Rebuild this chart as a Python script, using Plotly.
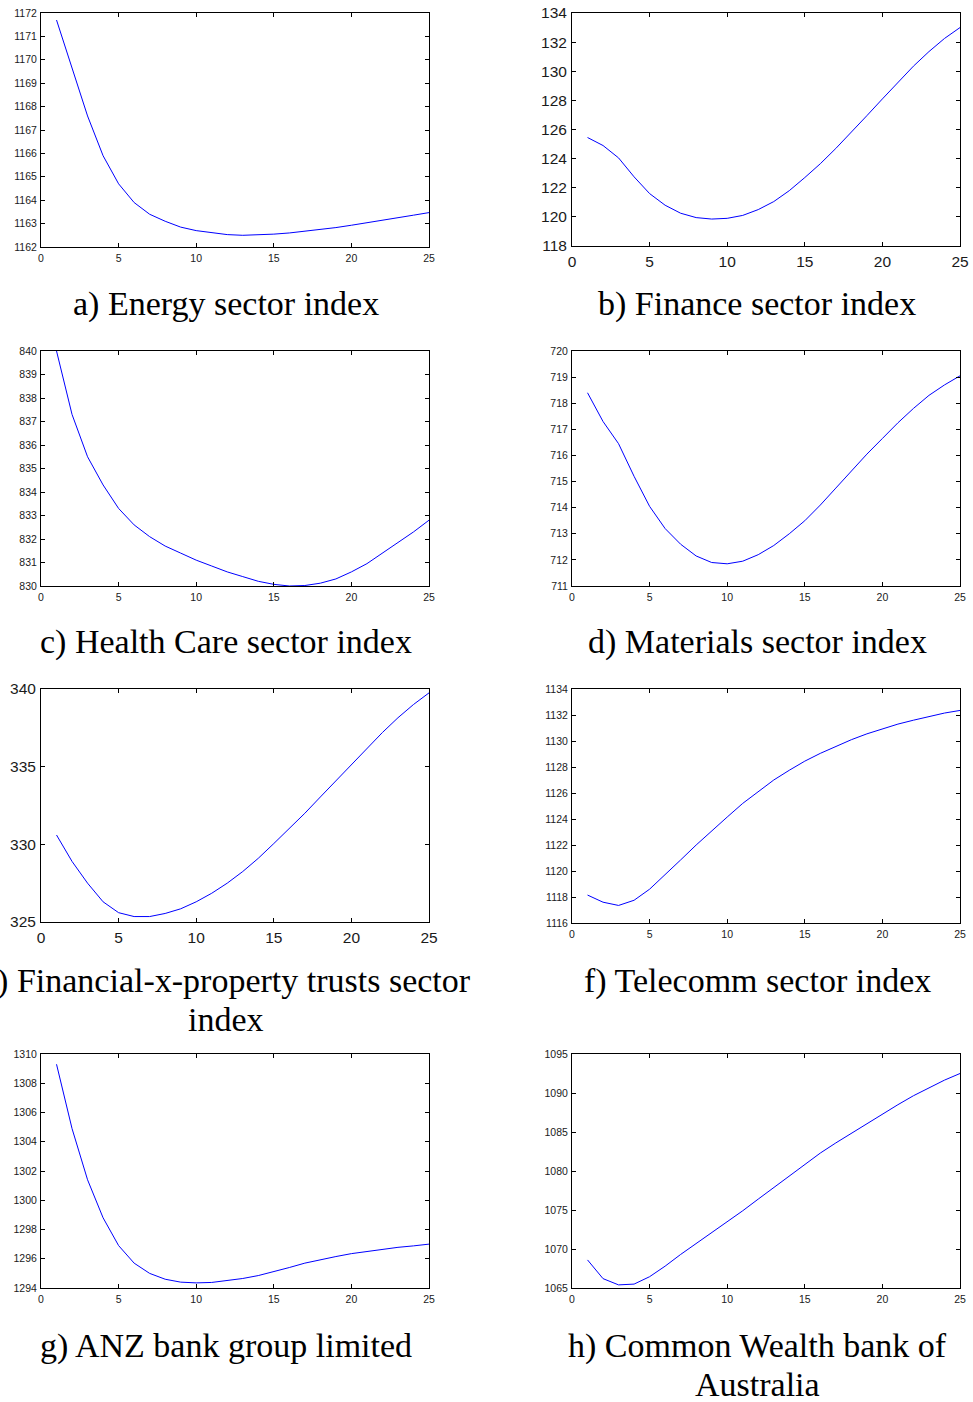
import plotly.graph_objects as go

W, H = 973, 1402

steps = list(range(1, 26))

energy = [1171.7, 1169.6, 1167.6, 1165.9, 1164.7, 1163.9, 1163.4, 1163.1, 1162.85, 1162.7,
          1162.6, 1162.53, 1162.5, 1162.52, 1162.55, 1162.6, 1162.67, 1162.75, 1162.83, 1162.93,
          1163.03, 1163.14, 1163.25, 1163.36, 1163.47]
finance = [125.45, 124.9, 124.05, 122.75, 121.6, 120.8, 120.25, 119.95, 119.85, 119.9,
           120.1, 120.5, 121.05, 121.8, 122.7, 123.65, 124.7, 125.8, 126.95, 128.1,
           129.25, 130.35, 131.35, 132.25, 133.0]
health = [840.0, 837.3, 835.5, 834.3, 833.3, 832.6, 832.1, 831.7, 831.4, 831.1,
          830.85, 830.6, 830.4, 830.2, 830.07, 830.0, 830.02, 830.12, 830.3, 830.6,
          830.95, 831.4, 831.85, 832.3, 832.8]
materials = [718.4, 717.3, 716.45, 715.2, 714.05, 713.2, 712.6, 712.15, 711.9, 711.85,
             711.95, 712.2, 712.55, 713.0, 713.5, 714.1, 714.75, 715.4, 716.05, 716.65,
             717.25, 717.8, 718.3, 718.7, 719.05]
fin_x_prop = [330.6, 328.9, 327.5, 326.3, 325.6, 325.35, 325.35, 325.55, 325.85, 326.3,
              326.85, 327.5, 328.25, 329.1, 330.05, 331.0, 332.0, 333.05, 334.1, 335.15,
              336.2, 337.2, 338.15, 339.0, 339.75]
telecomm = [1118.15, 1117.6, 1117.35, 1117.75, 1118.6, 1119.7, 1120.85, 1122.0, 1123.1, 1124.15,
            1125.2, 1126.1, 1127.0, 1127.75, 1128.45, 1129.05, 1129.6, 1130.1, 1130.55, 1130.95,
            1131.3, 1131.6, 1131.9, 1132.15, 1132.35]
anz = [1309.3, 1304.9, 1301.4, 1298.8, 1296.9, 1295.7, 1295.0, 1294.6, 1294.4, 1294.35,
       1294.38, 1294.5, 1294.65, 1294.85, 1295.1, 1295.4, 1295.7, 1295.95, 1296.15, 1296.35,
       1296.5, 1296.65, 1296.78, 1296.88, 1297.0]
cba = [1068.6, 1066.2, 1065.4, 1065.5, 1066.45, 1067.8, 1069.3, 1070.7, 1072.1, 1073.4,
       1074.9, 1076.4, 1077.9, 1079.4, 1080.9, 1082.3, 1083.6, 1084.85, 1086.1, 1087.3,
       1088.5, 1089.65, 1090.7, 1091.65, 1092.5]

series = [energy, finance, health, materials, fin_x_prop, telecomm, anz, cba]
y_ranges = [(1162, 1172), (118, 134), (830, 840), (711, 720),
            (325, 340), (1116, 1134), (1294, 1310), (1065, 1095)]
y_dticks = [1, 2, 1, 1, 5, 2, 2, 5]
tick_sizes = [10.5, 15.5, 10.5, 10.5, 15.5, 10.5, 10.5, 10.5]

captions = [
    ["a) Energy sector index"],
    ["b) Finance sector index"],
    ["c) Health Care sector index"],
    ["d) Materials sector index"],
    ["e) Financial-x-property trusts sector", "index"],
    ["f) Telecomm sector index"],
    ["g) ANZ bank group limited"],
    ["h) Common Wealth bank of", "Australia"],
]

# pixel boxes (left, right, top, bottom)
boxes = [
    (41, 429, 13, 247), (572, 960, 13, 246),
    (41, 429, 351, 586), (572, 960, 351, 586),
    (41, 429, 689, 922), (572, 960, 689, 923),
    (41, 429, 1054, 1288), (572, 960, 1054, 1288),
]
caption_x = [226, 757]
caption_y = [304, 642, 981, 1346]
line_gap = 38

fig = go.Figure()
layout = dict(
    template="none",
    width=W, height=H,
    margin=dict(l=0, r=0, t=0, b=0, pad=0),
    paper_bgcolor="white", plot_bgcolor="white",
    showlegend=False,
    annotations=[],
)

for i, ys in enumerate(series):
    n = i + 1
    sfx = "" if n == 1 else str(n)
    fig.add_trace(go.Scatter(
        x=steps, y=ys, mode="lines",
        line=dict(color="#0000ff", width=1),
        xaxis="x" + sfx, yaxis="y" + sfx,
        hoverinfo="skip",
    ))
    l, r, t, b = boxes[i]
    ts = tick_sizes[i]
    common = dict(
        showline=True, linecolor="black", linewidth=1, mirror="allticks",
        ticks="inside", ticklen=4, tickcolor="black", tickwidth=1,
        showgrid=False, zeroline=False, automargin=False,
        tickfont=dict(family="Liberation Sans, Arial, sans-serif", size=ts, color="#1a1a1a"),
        fixedrange=True,
    )
    layout["xaxis" + sfx] = dict(
        common, domain=[l / W, r / W], range=[0, 25], tick0=0, dtick=5,
        anchor="y" + sfx, ticklabelstandoff=1,
    )
    layout["yaxis" + sfx] = dict(
        common, domain=[1 - b / H, 1 - t / H], range=list(y_ranges[i]),
        tick0=y_ranges[i][0], dtick=y_dticks[i], anchor="x" + sfx,
        ticklabelstandoff=1,
    )
    cx = caption_x[i % 2]
    cy = caption_y[i // 2]
    for k, txt in enumerate(captions[i]):
        layout["annotations"].append(dict(
            text=txt, xref="paper", yref="paper",
            x=cx / W, y=1 - (cy + k * line_gap) / H,
            xanchor="center", yanchor="middle", showarrow=False,
            font=dict(family="Liberation Serif, Times New Roman, serif", size=34, color="black"),
        ))

fig.update_layout(**layout)
fig.write_html("out.html")
